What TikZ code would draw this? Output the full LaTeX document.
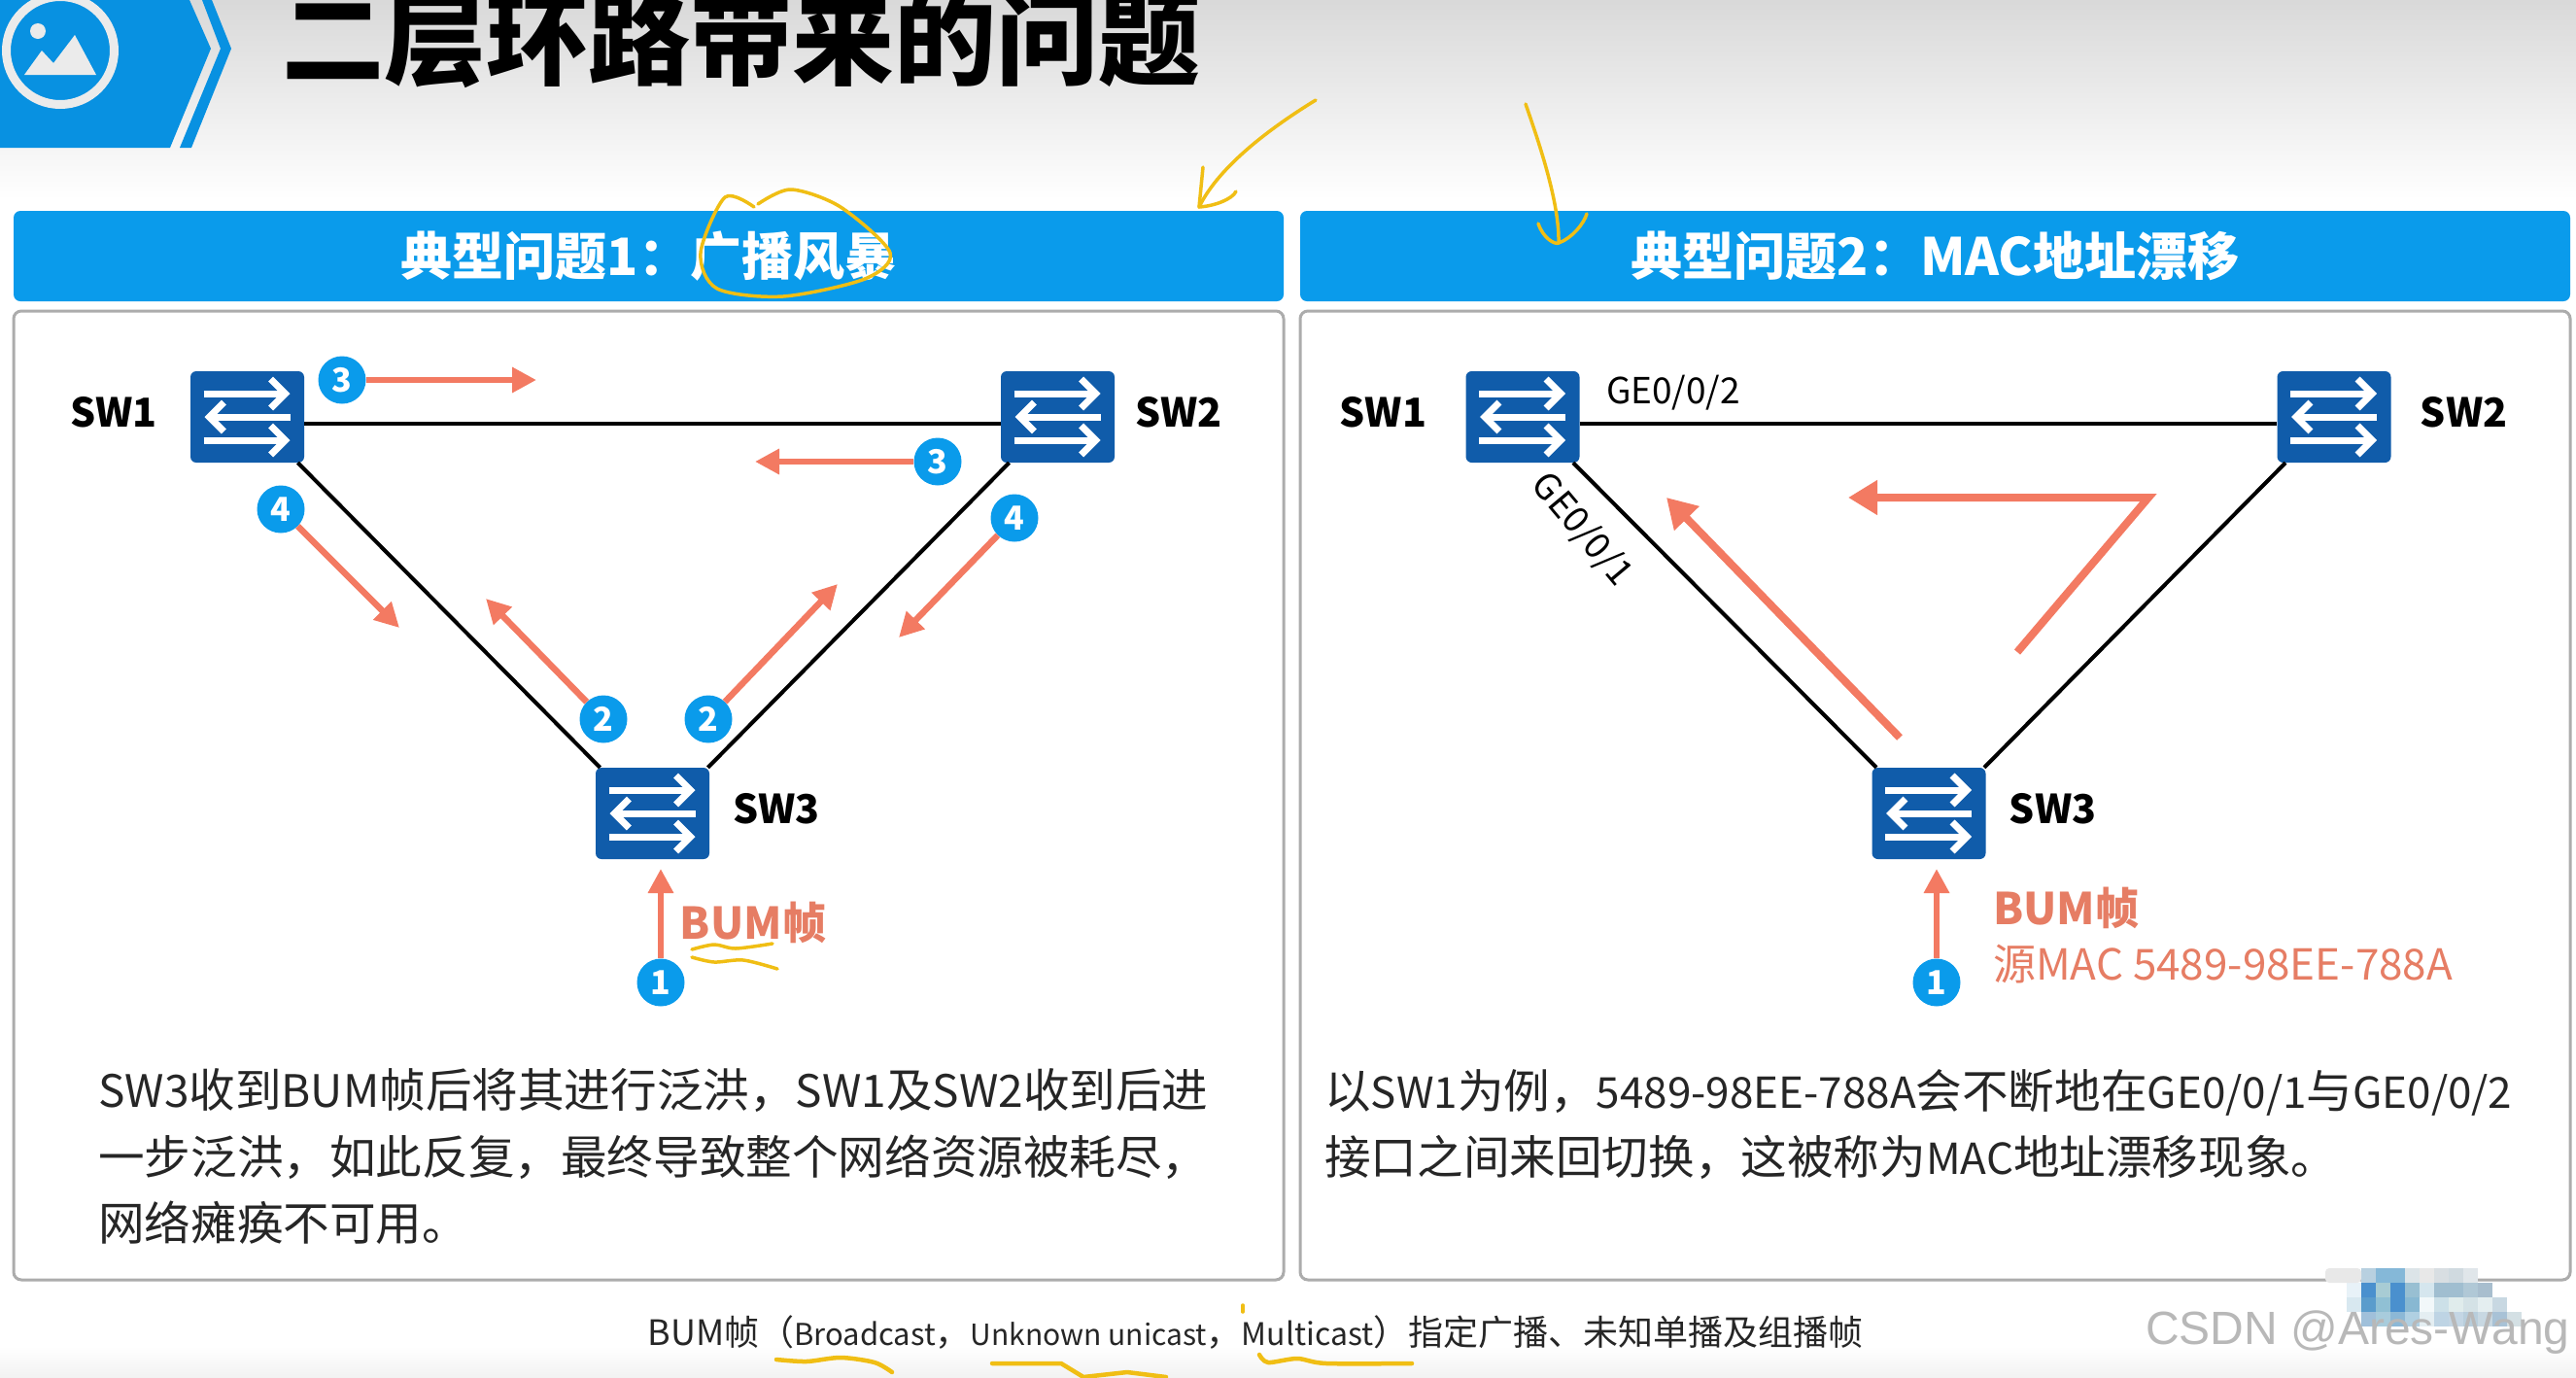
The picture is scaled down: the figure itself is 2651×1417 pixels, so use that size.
\documentclass[tikz,border=0pt]{standalone}
\usepackage{fontspec}
\usepackage{xcolor}
\usetikzlibrary{arrows.meta,positioning}
\setmainfont{Noto Sans CJK SC}
\newfontfamily\wmfont{Liberation Sans}
\newfontfamily\titlefont{Noto Sans CJK SC Black}
\definecolor{bandblue}{RGB}{10,155,235}
\definecolor{headblue}{RGB}{8,145,225}
\definecolor{swblue}{RGB}{16,92,170}
\definecolor{flowred}{RGB}{243,122,98}
\definecolor{bumred}{RGB}{230,125,100}
\definecolor{pen}{RGB}{240,190,20}
\newcommand{\fs}[1]{\fontsize{#1}{#1}\selectfont}
\newcommand{\lat}[2]{{\fontsize{#1}{68.5}\selectfont #2}}
\begin{document}
\begin{tikzpicture}[x=1pt,y=-1pt,
  band/.style={rectangle,rounded corners=7pt,fill=bandblue,text=white,font=\fs{53}\bfseries,minimum width=1307pt,minimum height=93pt,inner sep=0pt},
  panel/.style={rectangle,rounded corners=8pt,draw=gray!65,line width=3pt,fill=white,minimum width=1307pt,minimum height=997pt},
  sw/.style={rectangle,rounded corners=6pt,fill=swblue,minimum width=117pt,minimum height=94pt,inner sep=0pt},
  swlabel/.style={font=\fs{41}\bfseries,inner sep=0pt,yshift=5pt},
  swarrow/.style={draw=white,line width=7pt,-{Straight Barb[length=15pt,width=30pt,line width=7pt]}},
  link/.style={line width=4pt,black},
  num/.style={circle,fill=bandblue,text=white,font=\fs{34}\bfseries,minimum size=49pt,inner sep=0pt},
  flow/.style={flowred,line width=6.5pt,-{Triangle[length=25pt,width=25pt]}},
  bigflow/.style={flow,line width=8pt,-{Triangle[length=30pt,width=34pt]}},
  bum/.style={text=bumred,inner sep=0pt},
  para/.style={anchor=west,align=left,inner sep=0pt,text=black!85,font=\fontsize{47.6}{68.5}\selectfont},
  note/.style={pen,line width=3.5pt,line cap=round,line join=round}]
\clip[use as bounding box] (0,0) rectangle (2651,1417);
\fill[white] (0,0) rectangle (2651,1417);
\shade[top color=black!15,bottom color=white] (0,0) rectangle (2651,205);
\shade[top color=white,bottom color=black!5] (0,1385) rectangle (2651,1417);
\fill[headblue] (0,0) -- (195,0) -- (217,50) -- (175,152) -- (0,152) -- cycle;
\fill[headblue] (208,0) -- (218,0) -- (238,50) -- (197,152) -- (185,152) -- (227,50) -- cycle;
\draw[black!8,line width=9pt] (62,52) circle (55.5);
\fill[black!8] (39,32) circle (8);
\fill[black!8] (25,77) -- (43,52) -- (55,65) -- (77,36) -- (99,77) -- cycle;
\node[font=\titlefont\fs{105},inner sep=0pt] (title) at (763,40) {二层环路带来的问题};
\node[band] (bandl) at (667.5,263.5) {典型问题1：广播风暴};
\node[band] (bandr) at (1991.5,263.5) {典型问题2：MAC地址漂移};
\node[panel] (panell) at (667.5,818.5) {};
\node[panel] (panelr) at (1991.5,818.5) {};

\node[sw] (swa) at (254.5,429) {};
\node[sw] (swb) at (1088.5,429) {};
\node[sw] (swc) at (671.5,837) {};
\node[sw] (swd) at (1567,429) {};
\node[sw] (swe) at (2402,429) {};
\node[sw] (swf) at (1985,837) {};
\foreach \s in {swa,swb,swc,swd,swe,swf} {
  \draw[swarrow] ([shift={(-45,-24)}]\s.center) -- ([shift={(44,-24)}]\s.center);
  \draw[swarrow] ([shift={(44,0)}]\s.center) -- ([shift={(-44,0)}]\s.center);
  \draw[swarrow] ([shift={(-45,24)}]\s.center) -- ([shift={(44,24)}]\s.center);
}
\node[swlabel,left=34pt of swa] {SW1};
\node[swlabel,right=21pt of swb] {SW2};
\node[swlabel,right=24pt of swc] {SW3};
\node[swlabel,left=40pt of swd] {SW1};
\node[swlabel,right=30pt of swe] {SW2};
\node[swlabel,right=24pt of swf] {SW3};
\draw[link] ([yshift=-7pt]swa.east) -- ([yshift=-7pt]swb.west);
\draw[link] ([xshift=52pt]swa.south) -- ([xshift=-54pt]swc.north);
\draw[link] ([xshift=-50pt]swb.south) -- ([xshift=57pt]swc.north);
\draw[link] ([yshift=-7pt]swd.east) -- ([yshift=-7pt]swe.west);
\draw[link] ([xshift=52pt]swd.south) -- ([xshift=-54pt]swf.north);
\draw[link] ([xshift=-50pt]swe.south) -- ([xshift=57pt]swf.north);
\node[font=\fs{37},inner sep=0pt] (ge2) at (1722,404) {GE0/0/2};
\node[font=\fs{37},inner sep=0pt,rotate=-50] (ge1) at (1628,545) {GE0/0/1};

\node[num] (n3a) at (352,391) {3};
\node[num] (n3b) at (965,475) {3};
\node[num] (n4a) at (289,524) {4};
\node[num] (n4b) at (1044,533) {4};
\node[num] (n2a) at (621,740) {2};
\node[num] (n2b) at (729,740) {2};
\node[num] (n1a) at (680,1011) {1};
\node[num] (n1b) at (1993,1011) {1};
\coordinate (e3a) at (552,391);
\coordinate (e3b) at (777,475);
\coordinate (e4a) at (411,646);
\coordinate (e4b) at (925,656);
\coordinate (e2a) at (500,616);
\coordinate (e2b) at (862,601);
\coordinate (e1a) at (680,894);
\coordinate (e1b) at (1993,894);
\foreach \a/\b in {n3a/e3a,n3b/e3b,n4a/e4a,n4b/e4b,n2a/e2a,n2b/e2b,n1a/e1a,n1b/e1b}
  \draw[flow] (\a) -- (\b);
\coordinate (la) at (1955,759);
\coordinate (lb) at (1715,512);
\coordinate (ka) at (2076,671);
\coordinate (kb) at (2211,512);
\coordinate (kc) at (1902,512);
\draw[bigflow] (la) -- (lb);
\draw[bigflow] (ka) -- (kb) -- (kc);

\node[bum,font=\fs{45}\bfseries] (buma) at (775,949) {BUM帧};
\node[bum,font=\fs{45}\bfseries,anchor=west] (bumb) at (2051,934) {BUM帧};
\node[bum,font=\fs{44},anchor=west] (srcmac) at (2051,992) {源MAC 5489-98EE-788A};

\node[para] (textl) at (101,1190) {\lat{46}{SW3}收到\lat{46}{BUM}帧后将其进行泛洪，\lat{46}{SW1}及\lat{46}{SW2}收到后进\\一步泛洪，如此反复，最终导致整个网络资源被耗尽，\\网络瘫痪不可用。};
\node[para] (textr) at (1363,1157) {以\lat{44}{SW1}为例，\lat{44}{5489-98EE-788A}会不断地在\lat{44}{GE0/0/1}与\lat{44}{GE0/0/2}\\接口之间来回切换，这被称为\lat{44}{MAC}地址漂移现象。};
\node[font=\fs{36},inner sep=0pt,text=black!85] (foot) at (1292,1371) {BUM帧（\lat{31}{Broadcast}，\lat{30}{Unknown unicast}，\lat{32}{Multicast}）指定广播、未知单播及组播帧};

\draw[note] plot[smooth] coordinates {(776,213) (746,203) (721,260) (738,297) (806,305) (890,287) (916,260) (865,213) (814,195) (780,210)};
\draw[note] (1354,103) .. controls (1310,130) and (1255,170) .. (1234,213);
\draw[note] (1238,172) -- (1234,213) .. controls (1250,212) and (1268,205) .. (1272,197);
\draw[note] (1570,107) .. controls (1585,150) and (1605,210) .. (1604,250);
\draw[note] (1583,230) .. controls (1588,245) and (1600,252) .. (1604,250) .. controls (1618,245) and (1630,230) .. (1633,220);
\draw[note] plot[smooth] coordinates {(712,977) (735,972) (757,976) (795,971)};
\draw[note] plot[smooth] coordinates {(712,985) (735,990) (765,988) (800,997)};
\draw[note,line width=4.5pt] plot[smooth] coordinates {(799,1399) (830,1401) (865,1397) (900,1402) (918,1412)};
\draw[note,line width=4.5pt] (1021,1403) -- (1092,1403) -- (1115,1417) -- (1160,1412) -- (1200,1417);
\draw[note,line width=4.5pt] plot[smooth] coordinates {(1296,1394) (1305,1402) (1335,1398) (1365,1403) (1453,1403)};
\draw[note] (1279,1343) -- (1279,1350);

\foreach \cy/\cx/\row in {1305/2430/{B8D0E0,85B8D8,85B8D8,DCE4E8,E8E8E8,D8DEE2,D0DAE0,E0E6EA},
  1320/2415/{E8F2F8,4A90CE,A8CCD4,4A90CE,98BFD2,D5E6EE,A0BED0,A0BED0,B0C8D6,A8BECE},
  1335/2415/{D8E8F0,5A9CCC,90C0D4,4A90CE,88B8D2,F2F8FA,CCE0E8,E0ECEC,D4E2E6,E4EEF0,C8D8E2},
  1350/2430/{A0C0DA,A8CCDC,8CB8D6,B0D0E2,E4EEF2,BED4E4,C4D6E4,B8CEDC,C8D8E2,A8C2D6,D4E0E4}}
  \foreach \cc [count=\ci from 0] in \row {
    \definecolor{mosaic}{HTML}{\cc}
    \fill[mosaic] (\cx+15*\ci,\cy) rectangle ++(15,15);
  }
\fill[black!9,rounded corners=4pt] (2393,1305) rectangle (2430,1320);
\node[font=\wmfont\fs{48},text=black!28,anchor=west,inner sep=0pt] (mark) at (2208,1371) {CSDN @Ares-Wang};
\end{tikzpicture}
\end{document}
